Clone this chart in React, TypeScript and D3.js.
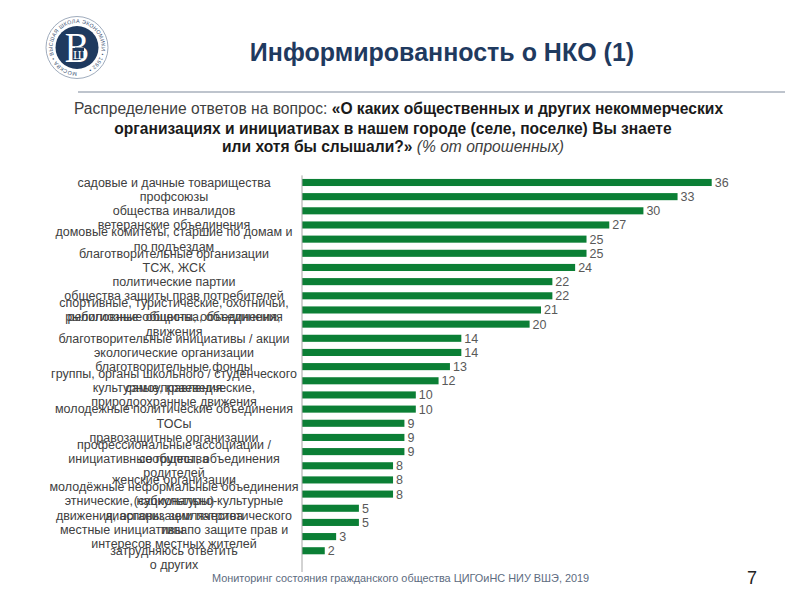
import React, { useEffect, useRef } from 'react';
import * as d3 from 'd3';

// one entry per row, inner items are the wrapped lines of the label
const categories: string[][] = [
  ['садовые и дачные товарищества'],
  ['профсоюзы'],
  ['общества инвалидов'],
  ['ветеранские объединения'],
  ['домовые комитеты, старшие по домам и', 'по подъездам'],
  ['благотворительные организации'],
  ['ТСЖ, ЖСК'],
  ['политические партии'],
  ['общества защиты прав потребителей'],
  ['спортивные, туристические, охотничьи,', 'рыболовные общества, объединения'],
  ['религиозные общины, объединения,', 'движения'],
  ['благотворительные инициативы / акции'],
  ['экологические организации'],
  ['благотворительные фонды'],
  ['группы, органы школьного / студенческого', 'самоуправления'],
  ['культурные, краеведческие,', 'природоохранные движения'],
  ['молодежные политические объединения'],
  ['ТОСы'],
  ['правозащитные организации'],
  ['профессиональные ассоциации /', 'сообщества'],
  ['инициативные группы, объединения', 'родителей'],
  ['женские организации'],
  ['молодёжные неформальные объединения', '(субкультуры)'],
  ['этнические, национально-культурные', 'диаспоры, землячества'],
  ['движения, организации патриотического', 'типа'],
  ['местные инициативы по защите прав и', 'интересов местных жителей'],
  ['затрудняюсь ответить'],
  ['о других'],
];

const values: (number | null)[] = [
  36, 33, 30, 27, 25, 25, 24, 22, 22, 21, 20, 14, 14, 13, 12, 10, 10, 9, 9, 9, 8, 8, 8, 5, 5, 3, 2, null,
];

const title = 'Информированность о НКО (1)';
const footer = 'Мониторинг состояния гражданского общества ЦИГОиНС НИУ ВШЭ, 2019';
const pageNo = '7';
const ringText = 'МОСКВА • ВЫСШАЯ ШКОЛА ЭКОНОМИКИ • 1992 •';

const W = 800;
const H = 600;
const NAVY = '#1f3a5f';
const FONT = '"Liberation Sans", Arial, sans-serif';

export default function App() {
  const svgRef = useRef<SVGSVGElement>(null);

  useEffect(() => {
    if (!svgRef.current) return;
    const svg = d3.select(svgRef.current);
    svg.selectAll('*').remove();
    svg.attr('font-family', FONT);

    // logo
    const logo = svg.append('g').attr('transform', 'translate(77,47.5)');
    logo.append('circle').attr('r', 31).attr('fill', '#fff').attr('stroke', '#8796ab').attr('stroke-width', 0.8);
    logo.append('path').attr('id', 'ring').attr('fill', 'none')
      .attr('d', 'M0,24.5 A24.5,24.5 0 1,1 0.01,24.5');
    logo.append('text').attr('font-size', 5.4).attr('letter-spacing', 0.3).attr('fill', '#3d5474')
      .append('textPath').attr('href', '#ring').text(ringText);
    logo.append('circle').attr('r', 21.5).attr('fill', NAVY);
    logo.append('text').attr('transform', 'translate(0,14.5) scale(0.85,1)')
      .attr('text-anchor', 'middle').attr('fill', '#fff')
      .attr('font-family', '"Liberation Serif", serif').attr('font-size', 43).text('В');
    logo.append('rect').attr('x', -2).attr('y', 0).attr('width', 9).attr('height', 11).attr('fill', NAVY);
    logo.append('text').attr('x', 2.5).attr('y', 11).attr('text-anchor', 'middle').attr('fill', '#fff')
      .attr('font-family', '"Liberation Serif", serif').attr('font-size', 13).text('Ш');

    // header
    svg.append('text').attr('x', 442).attr('y', 61).attr('text-anchor', 'middle')
      .attr('font-size', 25).attr('font-weight', 700).attr('fill', NAVY).text(title);
    svg.append('line').attr('x1', 78).attr('x2', 785).attr('y1', 92).attr('y2', 92)
      .attr('stroke', '#7f8a9c').attr('stroke-width', 1.2);

    const sub = svg.append('text').attr('text-anchor', 'middle').attr('font-size', 15.6).attr('fill', '#1a1a1a');
    const l1 = sub.append('tspan').attr('x', 398.5).attr('y', 114);
    l1.append('tspan').attr('fill', '#404040').text('Распределение ответов на вопрос: ');
    l1.append('tspan').attr('font-weight', 700).text('«О каких общественных и других некоммерческих');
    sub.append('tspan').attr('x', 393).attr('y', 134).attr('font-weight', 700)
      .text('организациях и инициативах в нашем городе (селе, поселке) Вы знаете');
    const l3 = sub.append('tspan').attr('x', 393).attr('y', 152);
    l3.append('tspan').attr('font-weight', 700).text('или хотя бы слышали?»');
    l3.append('tspan').attr('font-style', 'italic').attr('fill', '#404040').text(' (% от опрошенных)');

    // chart
    const y = d3.scaleBand<number>()
      .domain(d3.range(categories.length))
      .range([175.4, 572])
      .paddingInner(0.5)
      .paddingOuter(0.25);
    const x = d3.scaleLinear().domain([0, 36]).range([302, 711.7]);
    const rowMid = (i: number) => (y(i) ?? 0) + y.bandwidth() / 2;

    const rows = values.map((v, i) => ({ v, i })).filter(d => d.v !== null) as { v: number; i: number }[];

    svg.append('g').selectAll('rect').data(rows).join('rect')
      .attr('x', x(0))
      .attr('y', d => y(d.i) ?? 0)
      .attr('width', d => x(d.v) - x(0))
      .attr('height', y.bandwidth())
      .attr('fill', '#0b7f35');

    svg.append('g').selectAll('text').data(rows).join('text')
      .attr('x', d => x(d.v) + 3)
      .attr('y', d => rowMid(d.i) + 4.5)
      .attr('font-size', 12.5)
      .attr('fill', '#595959')
      .text(d => d.v);

    svg.append('line').attr('x1', x(0)).attr('x2', x(0)).attr('y1', 175.4).attr('y2', 572)
      .attr('stroke', '#a6a6a6').attr('stroke-width', 1);

    // wrapped labels overlap each other, same as the source slide
    const lineH = 14.2;
    const labels = svg.append('g').attr('text-anchor', 'middle').attr('font-size', 12.5).attr('fill', '#404040');
    categories.forEach((lines, i) => {
      lines.forEach((line, k) => {
        labels.append('text')
          .attr('x', 174)
          .attr('y', rowMid(i) + (k - (lines.length - 1) / 2) * lineH + 4.3)
          .text(line);
      });
    });

    // footer
    svg.append('text').attr('x', 212).attr('y', 582).attr('font-size', 10.9).attr('fill', '#5d6b80').text(footer);
    svg.append('text').attr('x', 752).attr('y', 584).attr('text-anchor', 'middle')
      .attr('font-size', 18).attr('fill', '#222').text(pageNo);
  }, []);

  return (
    <svg
      ref={svgRef}
      width={W}
      height={H}
      style={{ position: 'absolute', left: 0, top: 0, background: '#fff' }}
    />
  );
}
